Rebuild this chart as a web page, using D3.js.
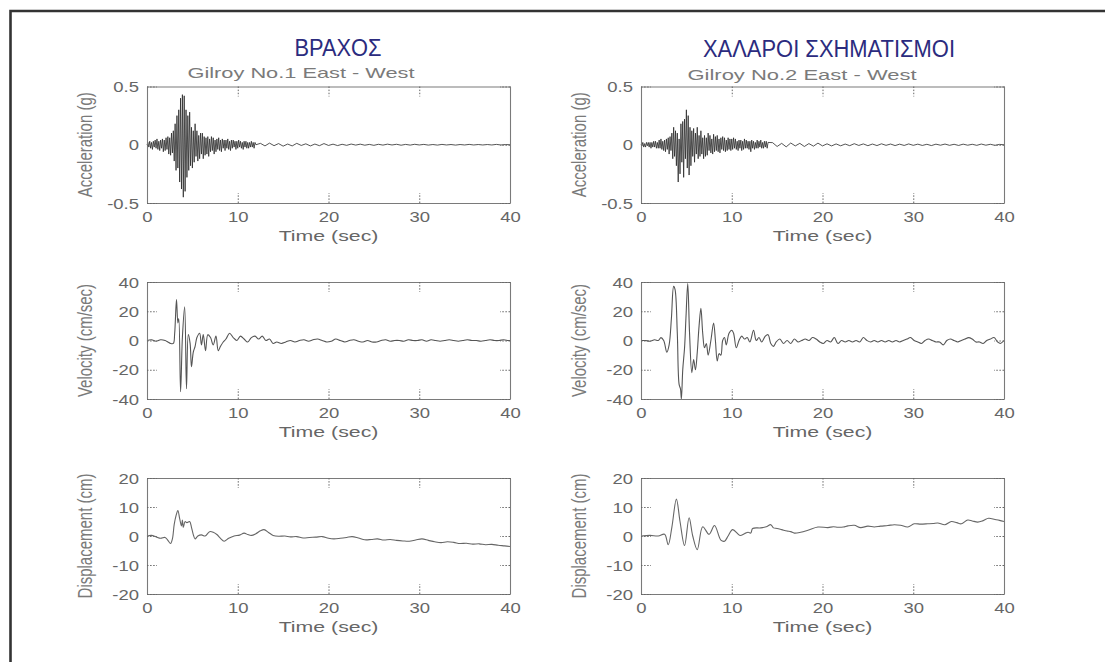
<!DOCTYPE html>
<html>
<head>
<meta charset="utf-8">
<script src="https://cdn.jsdelivr.net/npm/d3@7/dist/d3.min.js"></script>
<style>
  html, body { margin: 0; padding: 0; background: #fff; overflow: hidden; }
  svg { display: block; }
</style>
</head>
<body>
<script>
// ---------------- DATA ----------------
const xTicks = [0, 10, 20, 30, 40];
const accTicks = [-0.5, 0, 0.5];
const velTicks = [-40, -20, 0, 20, 40];
const dispTicks = [-20, -10, 0, 10, 20];

const columnTitles = ["ΒΡΑΧΟΣ", "ΧΑΛΑΡΟΙ ΣΧΗΜΑΤΙΣΜΟΙ"];
const stationNames = ["Gilroy No.1 East - West", "Gilroy No.2 East - West"];
const rowLabels = ["Acceleration (g)", "Velocity (cm/sec)", "Displacement (cm)"];
const xLabel = "Time (sec)";

// Gilroy No.1 acceleration (g): samples every 0.1 s from 0 to 12 s
const acc1Early = [
  0.00, 0.02, -0.02, 0.03, -0.03, 0.02, -0.04, 0.03, -0.02, 0.04,
  -0.03, 0.05, -0.04, 0.03, -0.05, 0.04, -0.03, 0.05, -0.06, 0.04,
  -0.05, 0.06, -0.04, 0.07, -0.08, 0.06, -0.09, 0.10, -0.07, 0.12,
  -0.14, 0.18, -0.22, 0.25, -0.20, 0.30, -0.32, 0.40, -0.38, 0.43,
  -0.45, 0.42, -0.40, 0.30, -0.28, 0.25, -0.22, 0.28, -0.18, 0.15,
  -0.20, 0.12, -0.15, 0.18, -0.10, 0.12, -0.14, 0.08, -0.12, 0.10,
  -0.08, 0.10, -0.12, 0.07, -0.09, 0.06, -0.08, 0.07, -0.10, 0.05,
  -0.06, 0.07, -0.05, 0.06, -0.08, 0.04, -0.06, 0.05, -0.04, 0.06,
  -0.05, 0.04, -0.06, 0.05, -0.03, 0.04, -0.05, 0.04, -0.03, 0.05,
  -0.04, 0.03, -0.05, 0.04, -0.03, 0.04, -0.02, 0.03, -0.04, 0.03,
  -0.03, 0.04, -0.02, 0.03, -0.03, 0.02, -0.04, 0.03, -0.02, 0.03,
  -0.03, 0.02, -0.03, 0.02, -0.02, 0.03, -0.02, 0.02, -0.03, 0.02,
  0.00
];
// Gilroy No.1 acceleration (g): samples every 0.5 s from 12.5 to 40 s
const acc1Late = [
  0.012, -0.01, 0.014, -0.008, 0.01, -0.012, 0.006, -0.01, 0.012, -0.006, 0.008, -0.01, 0.006, -0.008, 0.01, -0.006,
  0.005, -0.007, 0.004, -0.005, 0.006, -0.003, 0.005, -0.004, 0.003, -0.005, 0.004, -0.003, 0.005, -0.002, 0.004, -0.004, 0.003, -0.003, 0.004, -0.002,
  0.003, -0.003, 0.002, -0.003, 0.003, -0.002, 0.002, -0.003, 0.002, -0.002, 0.003, -0.002, 0.002, -0.002, 0.002, -0.002, 0.003, -0.002, 0.002, 0.0
];

// Gilroy No.2 acceleration (g): samples every 0.1 s from 0 to 14 s
const acc2Early = [
  0.00, -0.01, 0.02, -0.02, 0.01, -0.02, 0.02, -0.01, 0.02, -0.02,
  0.02, -0.03, 0.02, -0.02, 0.03, -0.02, 0.03, -0.03, 0.02, -0.03,
  0.04, -0.03, 0.05, -0.04, 0.03, -0.05, 0.04, -0.06, 0.05, -0.04,
  0.06, -0.08, 0.07, -0.05, 0.10, -0.12, 0.15, -0.10, 0.12, -0.18,
  0.10, -0.32, 0.05, -0.25, 0.18, -0.15, 0.20, -0.28, 0.22, -0.12,
  0.30, -0.20, 0.25, -0.26, 0.15, -0.18, 0.12, -0.10, 0.14, -0.15,
  0.10, -0.08, 0.15, -0.12, 0.08, -0.10, 0.12, -0.08, 0.06, -0.12,
  0.08, -0.10, 0.06, -0.09, 0.10, -0.05, 0.08, -0.07, 0.05, -0.08,
  0.09, -0.06, 0.07, -0.05, 0.08, -0.06, 0.05, -0.07, 0.06, -0.04,
  0.07, -0.05, 0.06, -0.06, 0.04, -0.05, 0.06, -0.04, 0.05, -0.05,
  0.05, -0.04, 0.06, -0.03, 0.05, -0.04, 0.03, -0.05, 0.04, -0.03,
  0.04, -0.05, 0.03, -0.04, 0.05, -0.03, 0.04, -0.03, 0.03, -0.04,
  0.03, -0.06, 0.04, -0.03, 0.03, -0.04, 0.02, -0.03, 0.04, -0.03,
  0.03, -0.02, 0.04, -0.03, 0.02, -0.03, 0.03, -0.02, 0.03, -0.03,
  0.02
];
// Gilroy No.2 acceleration (g): samples every 0.5 s from 14.5 to 40 s
const acc2Late = [
  0.018, -0.015, 0.012, -0.018, 0.015, -0.01, 0.012, -0.015, 0.01, -0.012, 0.014, -0.01,
  0.008, -0.01, 0.007, -0.009, 0.006, -0.008, 0.009, -0.006, 0.007, -0.008, 0.006, -0.007, 0.008, -0.005, 0.006, -0.007, 0.005, -0.006, 0.007, -0.005,
  0.005, -0.006, 0.004, -0.007, 0.005, -0.004, 0.006, -0.005, 0.004, -0.006, 0.005, -0.004, 0.004, -0.005, 0.006, -0.004, 0.004, -0.005, 0.003, 0.0
];

// Velocity (cm/sec): [time, value]
const vel1 = [
  [0,0],[0.5,0.5],[1,-0.5],[1.5,0.5],[2,0],[2.3,-1],[2.6,-2],[2.9,-2],[3.05,5],[3.25,28],[3.4,12],[3.5,15],
  [3.7,-35],[3.9,2],[4.15,23],[4.35,-33],[4.55,4],[4.75,-2],[4.9,-18],[5.1,-8],[5.3,-4],[5.5,2],[5.8,5],[6.0,-3],
  [6.2,4],[6.45,-7],[6.7,4],[7.0,2],[7.3,-3],[7.6,3],[7.85,-7],[8.1,-4],[8.4,-1],[8.7,1],[9.1,5],[9.5,2],[9.9,0],
  [10.3,3],[10.7,1],[11.1,-1],[11.5,2],[11.9,3],[12.3,1],[12.7,3],[13.1,0],[13.5,1],[13.9,-2],[14.3,-1],[14.8,-2],
  [15.3,-1],[15.8,0],[16.3,-1],[16.8,0],[17.3,0.5],[17.8,-0.5],[18.3,0.5],[18.8,1],[19.3,0],[19.8,-1],[20.3,-0.5],
  [20.8,1],[21.3,0],[21.8,-1],[22.3,0],[22.8,0.5],[23.3,-0.5],[23.8,-1],[24.3,0],[24.8,-1],[25.3,-1],[25.8,0],
  [26.3,0.5],[26.8,-0.5],[27.3,0],[27.8,0],[28.3,-0.5],[28.8,0.5],[29.3,0],[29.8,0],[30.3,0.5],[30.8,-0.5],
  [31.3,0.5],[31.8,0],[32.3,-0.5],[32.8,0],[33.3,0.5],[33.8,0],[34.3,-0.5],[34.8,0],[35.3,0.5],[35.8,0],[36.3,0],
  [36.8,-0.5],[37.3,0],[37.8,0.5],[38.3,0],[38.8,0],[39.3,0.5],[39.8,0],[40,0]
];
const vel2 = [
  [0,0],[0.5,0],[1,-0.5],[1.5,0.5],[1.9,0],[2.2,2],[2.5,0],[2.85,-8],[3.1,-3],[3.35,15],[3.6,37],[3.75,35],[4.0,5],
  [4.2,-30],[4.35,-33],[4.45,-40],[4.6,-20],[4.8,-5],[4.95,15],[5.15,39],[5.35,5],[5.6,-22],[5.8,-13],[6.0,-20],
  [6.2,-8],[6.4,10],[6.6,22],[6.8,5],[7.0,-5],[7.2,-2],[7.4,-10],[7.7,0],[8.0,12],[8.2,0],[8.4,-14],[8.6,-9],
  [8.8,-10],[9.0,0],[9.2,2],[9.4,-3],[9.7,5],[10.0,7],[10.2,5],[10.5,-5],[10.8,0],[11.1,3],[11.4,1],[11.7,2],
  [12.0,-1],[12.4,7],[12.7,0],[13.0,2],[13.3,-1],[13.7,3],[14.0,4],[14.3,-2],[14.6,-4],[14.9,-1],[15.3,1],[15.7,-2],
  [16.1,0],[16.5,-2],[16.9,1],[17.3,-1],[17.7,0],[18.1,1],[18.5,0],[18.9,2],[19.3,1],[19.7,-1],[20.1,-2],[20.5,0],
  [20.9,-1],[21.3,2],[21.7,-2],[22.1,0],[22.5,-1],[22.9,0],[23.3,-1],[23.7,0],[24.1,-1],[24.5,2],[24.9,0],[25.3,-1],
  [25.7,0],[26.1,-1],[26.5,0],[26.9,-1],[27.3,0],[27.7,-1],[28.1,0],[28.5,-1],[28.9,0],[29.3,1],[29.7,2],[30.1,0],
  [30.5,-1],[30.9,-2],[31.3,0],[31.7,1],[32.1,0],[32.5,-1],[32.9,-1],[33.3,-3],[33.7,0],[34.1,1],[34.5,0],[34.9,-1],
  [35.3,0],[35.7,1],[36.1,2],[36.5,1],[36.9,-1],[37.3,-1],[37.7,-2],[38.1,0],[38.5,1],[38.9,2],[39.3,-1],[39.6,-2],[40,0]
];

// Displacement (cm): [time, value]
const disp1 = [
  [0,0],[0.5,0.2],[1,-0.3],[1.5,-0.8],[2,-0.5],[2.3,-1.5],[2.6,-2.6],[2.8,-1],[3.0,4],[3.2,7],[3.4,8.8],[3.6,6],
  [3.8,3.5],[3.9,5.5],[4.0,3],[4.2,5],[4.4,4.6],[4.7,5],[4.9,3],[5.1,0.5],[5.3,-1],[5.6,0],[6.0,0.4],[6.4,0],
  [6.9,1.5],[7.3,1.3],[7.7,0.5],[8.1,-0.8],[8.5,-1.8],[9.0,-0.8],[9.6,0],[10.2,0.3],[10.7,1],[11.1,0.5],[11.5,0.2],
  [12.0,0.8],[12.5,1.8],[12.9,2.2],[13.4,1.2],[13.9,0.2],[14.5,-0.1],[15.2,0],[15.8,-0.3],[16.5,-0.2],[17.2,-0.7],
  [17.9,-0.5],[18.6,-0.4],[19.3,-0.2],[20.0,-0.8],[20.6,-1],[21.3,-0.8],[22.0,-0.5],[22.6,-0.2],[23.3,-0.7],
  [24.0,-1.3],[24.7,-1.2],[25.4,-1],[26.1,-1.4],[26.8,-1.2],[27.5,-1.5],[28.2,-1.7],[28.9,-1.8],[29.6,-1.4],
  [30.3,-1],[31.0,-1.5],[31.7,-2],[32.4,-2.3],[33.1,-2],[33.8,-2.2],[34.5,-2.6],[35.2,-2.5],[35.9,-2.8],
  [36.6,-2.7],[37.3,-3],[38.0,-2.9],[38.7,-3.2],[39.4,-3.4],[40,-3.6]
];
const disp2 = [
  [0,0],[1.0,0.2],[1.9,0],[2.6,0.6],[3.0,-3],[3.4,3],[3.9,12.7],[4.3,5],[4.8,-3.3],[5.3,6.3],[5.7,0],[6.2,-4.7],
  [6.8,3.2],[7.5,0.6],[8.1,3.6],[8.8,-1.4],[9.2,-1.8],[9.6,0],[10.1,2.2],[10.9,0.2],[11.4,0.8],[11.8,1.3],[12.1,1],
  [12.3,2.6],[13.2,2.8],[13.8,3.2],[14.3,3.9],[14.6,2.8],[15.0,2.6],[15.5,2.2],[16.1,1.7],[16.5,1.5],[16.9,1],
  [17.6,1.3],[18.4,2],[19.5,3.1],[20.6,2.9],[21.2,3.2],[21.7,3],[22.3,3.1],[22.8,3.5],[23.5,3.7],[24.2,2.9],
  [25.0,3.4],[25.7,3.1],[26.4,3.4],[27.2,3.6],[27.9,3.9],[28.6,3.7],[29.4,3.1],[30.1,4.2],[30.8,4.1],[31.6,4.2],
  [32.2,4.3],[32.7,4.5],[33.5,3.9],[34.2,5],[34.8,4.6],[35.3,4.2],[36.0,5.5],[36.5,5.2],[37.1,4.8],[37.7,5.3],
  [38.3,6.1],[39.0,5.7],[39.5,5.4],[40,5]
];

// ---------------- BUILD ----------------
function sampled(early, earlyStart, earlyDt, late, lateStart, lateDt) {
  const out = early.map((v, i) => [earlyStart + i * earlyDt, v]);
  late.forEach((v, i) => out.push([lateStart + i * lateDt, v]));
  return out;
}
const acc1 = sampled(acc1Early, 0, 0.1, acc1Late, 12.5, 0.5);
const acc2 = sampled(acc2Early, 0, 0.1, acc2Late, 14.5, 0.5);

const W = 1105, H = 662;
const svg = d3.select("body").append("svg").attr("width", W).attr("height", H);
svg.append("rect").attr("width", W).attr("height", H).attr("fill", "#fff");

// outer frame (left and top edges)
svg.append("path").attr("d", `M10.5,${H} V11 H${W}`).attr("fill", "none")
  .attr("stroke", "#333").attr("stroke-width", 2.6);

const cols = [
  { x0: 147, x1: 510, titleX: 338, titleY: 56, titleLen: 87, subX: 301, subY: 78, subLen: 227 },
  { x0: 641, x1: 1004, titleX: 829, titleY: 57, titleLen: 252, subX: 802, subY: 80, subLen: 229 }
];
const rows = [
  { y0: 86.5, y1: 203, domain: [-0.5, 0.5], ticks: accTicks, stroke: "#2a2a2a", sw: 0.8 },
  { y0: 282, y1: 399, domain: [-40, 40], ticks: velTicks, stroke: "#555", sw: 1.1 },
  { y0: 478, y1: 594, domain: [-20, 20], ticks: dispTicks, stroke: "#666", sw: 1.1 }
];
const series = [[acc1, vel1, disp1], [acc2, vel2, disp2]];

const SX = 1.32; // horizontal stretch of the scanned lettering

cols.forEach((c, ci) => {
  svg.append("text").attr("x", c.titleX).attr("y", c.titleY)
    .attr("text-anchor", "middle")
    .attr("font-family", "'Liberation Sans Narrow', 'Arial Narrow', 'Liberation Sans', sans-serif")
    .attr("font-size", 23).attr("fill", "#2b2b7e")
    .attr("textLength", c.titleLen).attr("lengthAdjust", "spacingAndGlyphs")
    .text(columnTitles[ci]);
  svg.append("text").attr("x", c.subX).attr("y", c.subY)
    .attr("text-anchor", "middle")
    .attr("font-family", "'Liberation Sans', Arial, sans-serif")
    .attr("font-size", 14.5).attr("fill", "#7a7a7a")
    .attr("textLength", c.subLen).attr("lengthAdjust", "spacingAndGlyphs")
    .text(stationNames[ci]);

  rows.forEach((r, ri) => {
    const x = d3.scaleLinear().domain([0, 40]).range([c.x0, c.x1]);
    const y = d3.scaleLinear().domain(r.domain).range([r.y1, r.y0]);
    const g = svg.append("g");

    // data trace
    const line = d3.line().x(d => x(d[0])).y(d => y(d[1]))
      .curve(ri === 0 ? d3.curveLinear : d3.curveCatmullRom.alpha(0.5));
    g.append("path").datum(series[ci][ri]).attr("d", line)
      .attr("fill", "none").attr("stroke", r.stroke).attr("stroke-width", r.sw)
      .attr("stroke-linejoin", "round");

    const fmt = d => String(d);
    const styleAxis = (sel, showLabels) => {
      sel.select(".domain").attr("stroke", "#7a7a7a").attr("stroke-width", 1.1);
      sel.selectAll(".tick line").attr("stroke", "#666").attr("stroke-width", 1)
        .attr("stroke-dasharray", "1.5,1.6");
      if (!showLabels) sel.selectAll(".tick text").remove();
      sel.attr("font-family", "'Liberation Sans', Arial, sans-serif").attr("font-size", 14);
      sel.selectAll(".tick text").attr("fill", "#666");
    };

    const bottom = g.append("g").attr("transform", `translate(0,${r.y1})`)
      .call(d3.axisBottom(x).tickValues(xTicks).tickFormat(fmt).tickSizeInner(-10).tickSizeOuter(0).tickPadding(8));
    styleAxis(bottom, true);
    bottom.selectAll(".tick text").attr("y", 19).attr("dy", 0).attr("transform", `scale(${SX},1)`);

    const top = g.append("g").attr("transform", `translate(0,${r.y0})`)
      .call(d3.axisTop(x).tickValues(xTicks).tickSizeInner(-10).tickSizeOuter(0));
    styleAxis(top, false);

    const left = g.append("g").attr("transform", `translate(${c.x0},0)`)
      .call(d3.axisLeft(y).tickValues(r.ticks).tickFormat(fmt).tickSizeInner(-10).tickSizeOuter(0).tickPadding(8));
    styleAxis(left, true);
    left.selectAll(".tick text").attr("x", -8 / SX).attr("dy", "0.36em").attr("transform", `scale(${SX},1)`);

    const right = g.append("g").attr("transform", `translate(${c.x1},0)`)
      .call(d3.axisRight(y).tickValues(r.ticks).tickSizeInner(-10).tickSizeOuter(0));
    styleAxis(right, false);

    // x axis title
    const cx = (c.x0 + c.x1) / 2;
    svg.append("text").attr("transform", `translate(${cx},${r.y1 + 38}) scale(1.42,1)`)
      .attr("text-anchor", "middle")
      .attr("font-family", "'Liberation Sans', Arial, sans-serif").attr("font-size", 15)
      .attr("fill", "#666").text(xLabel);

    // y axis title
    const cy = (r.y0 + r.y1) / 2;
    svg.append("text").attr("transform", `translate(${c.x0 - 55},${cy}) rotate(-90) scale(1,1.35)`)
      .attr("text-anchor", "middle")
      .attr("font-family", "'Liberation Sans', Arial, sans-serif").attr("font-size", 15)
      .attr("fill", "#7a7a7a").text(rowLabels[ri]);
  });
});
</script>
</body>
</html>
